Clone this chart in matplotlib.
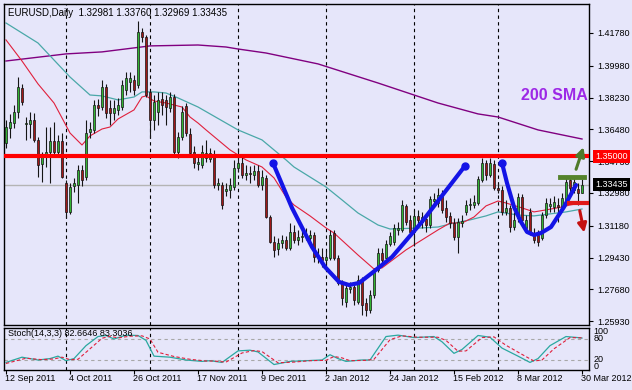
import matplotlib
matplotlib.use('Agg')
import matplotlib.pyplot as plt
import pandas as pd

plt.rcParams['font.family'] = ['Liberation Sans', 'DejaVu Sans']

# EURUSD daily bars, 12 Sep 2011 .. 30 Mar 2012
dates = pd.bdate_range('2011-09-12', '2012-03-30')

opens = [1.3573, 1.3656, 1.3683, 1.3744, 1.3876, 1.3678, 1.3678, 1.3700, 1.3590, 1.3458,
         1.3502, 1.3524, 1.3584, 1.3524, 1.3584, 1.3353, 1.3194, 1.3337, 1.3342, 1.3425,
         1.3386, 1.3634, 1.3645, 1.3782, 1.3771, 1.3881, 1.3766, 1.3738, 1.3755, 1.3771,
         1.3865, 1.3909, 1.3920, 1.3892, 1.4184, 1.4156, 1.3854, 1.3700, 1.3744, 1.3815,
         1.3810, 1.3766, 1.3826, 1.3524, 1.3606, 1.3777, 1.3623, 1.3524, 1.3458, 1.3452,
         1.3491, 1.3485, 1.3513, 1.3342, 1.3342, 1.3309, 1.3315, 1.3331, 1.3436, 1.3463,
         1.3397, 1.3408, 1.3397, 1.3419, 1.3342, 1.3381, 1.3166, 1.3029, 1.2990, 1.3023,
         1.3040, 1.2996, 1.3084, 1.3040, 1.3056, 1.3062, 1.3051, 1.3067, 1.2946, 1.2946,
         1.2930, 1.2941, 1.3078, 1.2941, 1.2803, 1.2699, 1.2771, 1.2781, 1.2699, 1.2820,
         1.2693, 1.2655, 1.2737, 1.2875, 1.2968, 1.2941, 1.3018, 1.3029, 1.3095, 1.3095,
         1.3227, 1.3150, 1.3084, 1.3172, 1.3139, 1.3155, 1.3122, 1.3254, 1.3243, 1.3287,
         1.3216, 1.3172, 1.3133, 1.3056, 1.3133, 1.3194, 1.3232, 1.3232, 1.3243, 1.3370,
         1.3463, 1.3397, 1.3458, 1.3326, 1.3315, 1.3194, 1.3216, 1.3111, 1.3161, 1.3276,
         1.3106, 1.3194, 1.3078, 1.3067, 1.3051, 1.3177, 1.3227, 1.3221, 1.3232, 1.3221,
         1.3260, 1.3370, 1.3315, 1.3320, 1.32981]
highs = [1.3700, 1.3733, 1.3782, 1.3936, 1.3898, 1.3716, 1.3744, 1.3738, 1.3606, 1.3524,
         1.3661, 1.3661, 1.3689, 1.3617, 1.3628, 1.3370, 1.3353, 1.3381, 1.3452, 1.3452,
         1.3700, 1.3689, 1.3810, 1.3815, 1.3920, 1.3898, 1.3810, 1.3810, 1.3821, 1.3920,
         1.3964, 1.3964, 1.3947, 1.4244, 1.4206, 1.4167, 1.3865, 1.3837, 1.3854, 1.3854,
         1.3837, 1.3854, 1.3843, 1.3634, 1.3777, 1.3793, 1.3656, 1.3557, 1.3507, 1.3562,
         1.3590, 1.3546, 1.3535, 1.3381, 1.3359, 1.3353, 1.3381, 1.3480, 1.3546, 1.3507,
         1.3452, 1.3447, 1.3452, 1.3452, 1.3425, 1.3397, 1.3177, 1.3062, 1.3051, 1.3067,
         1.3062, 1.3133, 1.3122, 1.3095, 1.3106, 1.3106, 1.3095, 1.3084, 1.2996, 1.2996,
         1.2985, 1.3095, 1.3095, 1.2957, 1.2820, 1.2792, 1.2809, 1.2803, 1.2847, 1.2836,
         1.2721, 1.2765, 1.2886, 1.2996, 1.2996, 1.3040, 1.3084, 1.3128, 1.3139, 1.3260,
         1.3238, 1.3177, 1.3205, 1.3205, 1.3194, 1.3183, 1.3282, 1.3298, 1.3326, 1.3315,
         1.3260, 1.3194, 1.3161, 1.3161, 1.3177, 1.3260, 1.3271, 1.3287, 1.3392, 1.3491,
         1.3480, 1.3491, 1.3480, 1.3353, 1.3337, 1.3260, 1.3232, 1.3194, 1.3298, 1.3293,
         1.3177, 1.3216, 1.3106, 1.3095, 1.3194, 1.3271, 1.3271, 1.3282, 1.3271, 1.3298,
         1.3381, 1.3392, 1.3386, 1.3353, 1.33760]
lows = [1.3546, 1.3601, 1.3656, 1.3711, 1.3782, 1.3590, 1.3601, 1.3579, 1.3386, 1.3359,
        1.3441, 1.3353, 1.3507, 1.3502, 1.3381, 1.3161, 1.3183, 1.3304, 1.3243, 1.3337,
        1.3370, 1.3601, 1.3628, 1.3722, 1.3755, 1.3711, 1.3672, 1.3700, 1.3727, 1.3755,
        1.3837, 1.3854, 1.3837, 1.3876, 1.4129, 1.3826, 1.3601, 1.3645, 1.3672, 1.3727,
        1.3672, 1.3744, 1.3507, 1.3491, 1.3590, 1.3612, 1.3502, 1.3436, 1.3425, 1.3436,
        1.3469, 1.3469, 1.3326, 1.3315, 1.3210, 1.3282, 1.3271, 1.3315, 1.3414, 1.3381,
        1.3370, 1.3353, 1.3370, 1.3331, 1.3315, 1.3161, 1.3023, 1.2946, 1.2957, 1.2996,
        1.2985, 1.2985, 1.3023, 1.3012, 1.3029, 1.3040, 1.3034, 1.2919, 1.2913, 1.2891,
        1.2886, 1.2930, 1.2930, 1.2792, 1.2682, 1.2671, 1.2748, 1.2682, 1.2688, 1.2627,
        1.2622, 1.2638, 1.2721, 1.2864, 1.2913, 1.2930, 1.3007, 1.3012, 1.3067, 1.3084,
        1.3122, 1.3062, 1.3007, 1.3117, 1.3106, 1.3084, 1.3106, 1.3221, 1.3221, 1.3188,
        1.3139, 1.3106, 1.3040, 1.2968, 1.3111, 1.3177, 1.3205, 1.3216, 1.3232, 1.3359,
        1.3370, 1.3386, 1.3315, 1.3298, 1.3177, 1.3177, 1.3084, 1.3095, 1.3139, 1.3139,
        1.3084, 1.3067, 1.3023, 1.3007, 1.3040, 1.3161, 1.3194, 1.3194, 1.3139, 1.3205,
        1.3249, 1.3304, 1.3298, 1.3232, 1.32969]
closes = [1.3661, 1.3689, 1.3744, 1.3881, 1.3799, 1.3683, 1.3700, 1.3590, 1.3452, 1.3496,
          1.3524, 1.3584, 1.3524, 1.3584, 1.3386, 1.3194, 1.3331, 1.3353, 1.3425, 1.3370,
          1.3628, 1.3650, 1.3782, 1.3766, 1.3881, 1.3738, 1.3738, 1.3766, 1.3782, 1.3892,
          1.3931, 1.3931, 1.3865, 1.4184, 1.4156, 1.3837, 1.3700, 1.3799, 1.3810, 1.3782,
          1.3771, 1.3826, 1.3524, 1.3606, 1.3744, 1.3628, 1.3518, 1.3463, 1.3469, 1.3524,
          1.3518, 1.3518, 1.3342, 1.3353, 1.3232, 1.3320, 1.3342, 1.3436, 1.3463, 1.3397,
          1.3408, 1.3403, 1.3419, 1.3342, 1.3386, 1.3166, 1.3029, 1.2985, 1.3023, 1.3040,
          1.2996, 1.3084, 1.3040, 1.3056, 1.3062, 1.3067, 1.3067, 1.2946, 1.2952, 1.2930,
          1.2946, 1.3067, 1.2941, 1.2803, 1.2720, 1.2776, 1.2781, 1.2710, 1.2820, 1.2682,
          1.2655, 1.2737, 1.2864, 1.2968, 1.2930, 1.3018, 1.3062, 1.3106, 1.3106, 1.3232,
          1.3139, 1.3084, 1.3172, 1.3150, 1.3166, 1.3122, 1.3265, 1.3265, 1.3287, 1.3205,
          1.3166, 1.3133, 1.3056, 1.3139, 1.3144, 1.3232, 1.3238, 1.3249, 1.3375, 1.3463,
          1.3397, 1.3463, 1.3326, 1.3315, 1.3194, 1.3216, 1.3111, 1.3150, 1.3276, 1.3150,
          1.3150, 1.3084, 1.3040, 1.3029, 1.3177, 1.3243, 1.3238, 1.3249, 1.3221, 1.3271,
          1.3359, 1.3326, 1.3359, 1.3298, 1.33435]

# moving averages (bar index, price)
sma200_bar = [0, 15, 24, 32, 36, 48, 55, 58, 65, 78, 93, 102, 108, 118, 123, 133, 144]
sma200_val = [1.4024, 1.4063, 1.4074, 1.4096, 1.4107, 1.4112, 1.4101, 1.4090, 1.4068,
              1.4008, 1.3903, 1.3837, 1.3793, 1.3733, 1.3716, 1.3645, 1.3595]
ma50_bar = [0, 8, 16, 21, 24, 28, 32, 34, 37, 40, 43, 48, 58, 64, 70, 72, 76, 80, 84,
            88, 93, 96, 104, 108, 112, 116, 120, 123, 128, 132, 136, 140, 144]
ma50_val = [1.4233, 1.4123, 1.3936, 1.3837, 1.3832, 1.3810, 1.3826, 1.3854, 1.3854,
            1.3848, 1.3821, 1.3771, 1.3645, 1.3590, 1.3480, 1.3441, 1.3386, 1.3331,
            1.3260, 1.3188, 1.3122, 1.3100, 1.3106, 1.3111, 1.3133, 1.3150, 1.3172,
            1.3194, 1.3177, 1.3172, 1.3183, 1.3194, 1.3210]
ma20_bar = [0, 4, 8, 12, 14, 16, 19, 21, 24, 26, 28, 32, 34, 35, 37, 40, 44, 46, 48,
            50, 56, 60, 64, 67, 70, 72, 76, 80, 82, 88, 92, 94, 96, 100, 104, 108, 111,
            114, 117, 120, 123, 125, 129, 132, 135, 139, 141, 144]
ma20_val = [1.4140, 1.4024, 1.3898, 1.3793, 1.3711, 1.3628, 1.3562, 1.3612, 1.3650,
            1.3661, 1.3705, 1.3755, 1.3826, 1.3832, 1.3804, 1.3793, 1.3771, 1.3716,
            1.3683, 1.3645, 1.3535, 1.3480, 1.3441, 1.3381, 1.3276, 1.3232, 1.3172,
            1.3106, 1.3078, 1.2957, 1.2880, 1.2886, 1.2919, 1.2985, 1.3040, 1.3095,
            1.3133, 1.3133, 1.3166, 1.3227, 1.3254, 1.3243, 1.3216, 1.3194, 1.3205,
            1.3221, 1.3232, 1.3243]

# stochastic (14,3,3): main and signal
stoch_bar = [0, 4, 8, 11, 13, 15, 17, 20, 23, 25, 27, 30, 33, 35, 37, 41, 45, 49, 51,
             54, 58, 61, 63, 67, 71, 75, 79, 81, 83, 85, 89, 91, 95, 98, 102, 107, 109,
             112, 114, 118, 121, 124, 128, 131, 133, 136, 140, 143, 144]
stoch_main = [13, 28, 20, 24, 31, 18, 24, 61, 87, 90, 80, 91, 90, 76, 31, 28, 20, 16,
              18, 13, 46, 48, 43, 7, 16, 18, 20, 35, 24, 16, 20, 20, 87, 91, 84, 87, 72,
              39, 50, 90, 85, 54, 31, 13, 24, 61, 87, 84, 82.6646]
signal_bar = [0, 5, 9, 12, 14, 16, 18, 21, 24, 26, 28, 31, 34, 36, 38, 42, 46, 50, 52,
              55, 59, 62, 64, 68, 72, 76, 80, 82, 84, 86, 90, 92, 96, 99, 103, 108, 110,
              113, 115, 119, 122, 125, 129, 132, 134, 137, 141, 144]
stoch_signal = [10, 25, 21, 23, 28, 21, 22, 52, 82, 88, 83, 88, 89, 80, 42, 30, 22, 17,
                17, 14, 40, 47, 44, 12, 14, 18, 19, 30, 26, 18, 19, 22, 78, 89, 85, 85,
                76, 45, 46, 84, 86, 62, 36, 17, 20, 52, 84, 83.3036]

# hand-drawn annotations (bar index, price)
cup1_bar = [66.75, 71.5, 76.5, 79.75, 83.25, 85.75, 88.25, 91.5, 96.5, 103.75, 114.75]
cup1_val = [1.3463, 1.3216, 1.3001, 1.2891, 1.2809, 1.2792, 1.2803, 1.2858, 1.2946,
            1.3133, 1.3447]
cup2_bar = [124, 125.25, 127, 128.75, 130.25, 132, 133.75, 136.25, 139.5, 142.5]
cup2_val = [1.3463, 1.3353, 1.3221, 1.3139, 1.3084, 1.3067, 1.3078, 1.3111, 1.3221, 1.3342]

price_ticks = [1.41780, 1.39980, 1.38230, 1.36480, 1.34730, 1.32980, 1.31180, 1.29430,
               1.27680, 1.25930]
resistance = 1.35000
last_price = 1.33435

bg = '#e6e6fa'
bull = '#33b433'
bear = '#a01818'
fs = 6.5

fig = plt.figure(figsize=(6.32, 3.90), dpi=100, facecolor=bg)
ax = fig.add_axes([4 / 632, 1 - 325 / 390, 585 / 632, 321 / 390], facecolor=bg)
ax2 = fig.add_axes([4 / 632, 1 - 370 / 390, 585 / 632, 42 / 390], facecolor=bg)

idx = list(range(len(dates)))
month_starts = [i for i in idx[1:] if dates[i].month != dates[i - 1].month]
for a in (ax, ax2):
    for m in month_starts:
        a.axvline(m, color='black', lw=0.8, ls=(0, (3, 3)), zorder=1)
    a.set_xlim(-0.5, 145.75)
    for s in a.spines.values():
        s.set_color('black')
        s.set_linewidth(1)

# candles
ax.vlines(idx, lows, highs, color='#151515', lw=0.8, zorder=3)
body_bottom = [min(o, c) for o, c in zip(opens, closes)]
body_height = [max(abs(c - o), 0.00005) for o, c in zip(opens, closes)]
body_color = [bull if c >= o else bear for o, c in zip(opens, closes)]
ax.bar(idx, body_height, bottom=body_bottom, width=0.6, color=body_color,
       edgecolor='#151515', linewidth=0.5, zorder=4)

ax.plot(sma200_bar, sma200_val, color='#800080', lw=1.0, zorder=2)
ax.plot(ma50_bar, ma50_val, color='#4aa8a8', lw=0.9, zorder=2)
ax.plot(ma20_bar, ma20_val, color='#e0203c', lw=0.8, zorder=2)

ax.axhline(last_price, color='#b4b4b4', lw=1, zorder=1.5)
ax.axhline(resistance, color='#ff0000', lw=3, zorder=5)

# cup drawings
ax.plot(cup1_bar, cup1_val, color='#1414e6', lw=3, solid_capstyle='round', zorder=6)
ax.plot(cup1_bar[0], cup1_val[0], 'o', color='#1414e6', ms=5, zorder=6)
ax.plot(cup1_bar[-1], cup1_val[-1], 'o', color='#1414e6', ms=5, zorder=6)
ax.plot(cup2_bar, cup2_val, color='#1414e6', lw=3, solid_capstyle='round', zorder=6)
ax.plot(cup2_bar[0], cup2_val[0], 'o', color='#1414e6', ms=5, zorder=6)
ax.annotate('', xy=(cup2_bar[-1] + 0.3, cup2_val[-1] + 0.0015),
            xytext=(cup2_bar[-2], cup2_val[-2]),
            arrowprops=dict(arrowstyle='-|>', color='#1414e6', lw=0, mutation_scale=9),
            zorder=6)

# breakout levels and arrows
ax.plot([138.5, 144.6], [1.3386, 1.3386], color='#55832c', lw=3.5, zorder=6)
ax.plot([140.7, 146.0], [1.3243, 1.3243], color='#e01818', lw=3, zorder=6)
ax.annotate('', xy=(144.6, 1.3565), xytext=(142.3, 1.3414),
            arrowprops=dict(arrowstyle='-|>', color='#4f7a2a', lw=2.2, mutation_scale=13),
            zorder=7)
ax.annotate('', xy=(144.7, 1.3065), xytext=(143.3, 1.3216),
            arrowprops=dict(arrowstyle='-|>', color='#c41010', lw=2.2, mutation_scale=13),
            zorder=7)

ax.text(145.4, 1.3837, '200 SMA', color='#9d28e6', fontsize=11.5, fontweight='bold',
        ha='right', va='center', zorder=8)

ax.set_ylim(1.2572, 1.43375)
ax.set_xticks([])
ax.yaxis.tick_right()
ax.set_yticks(price_ticks)
ax.set_yticklabels(['%.5f' % p for p in price_ticks], fontsize=fs)
ax.tick_params(axis='y', length=3, width=0.8, pad=3, colors='black')

ytr = ax.get_yaxis_transform()
ax.text(1.0103, resistance, '%.5f' % resistance, transform=ytr, color='white', fontsize=fs,
        va='center', ha='left', zorder=10,
        bbox=dict(boxstyle='square,pad=0.22', fc='#ff0000', ec='none'), clip_on=False)
ax.text(1.0103, last_price, '%.5f' % last_price, transform=ytr, color='white', fontsize=fs,
        va='center', ha='left', zorder=10,
        bbox=dict(boxstyle='square,pad=0.22', fc='black', ec='none'), clip_on=False)

fig.text(8 / 632, 1 - 13 / 390, 'EURUSD,Daily  %.5f %.5f %.5f %.5f'
         % (opens[-1], highs[-1], lows[-1], closes[-1]), fontsize=7, va='center')

# stochastic panel
ax2.plot(stoch_bar, stoch_main, color='#2aa8a0', lw=0.9, zorder=3)
ax2.plot(signal_bar, stoch_signal, color='#e0203c', lw=0.8, ls=(0, (3, 2)), zorder=3)
for lvl in (20, 80):
    ax2.axhline(lvl, color='#a8a8a8', lw=0.8, ls=(0, (3, 3)), zorder=1)
ax2.set_ylim(-8.6, 111.4)
ax2.set_yticks([])
ax2.text(0.007, 0.86, 'Stoch(14,3,3) %.4f %.4f' % (stoch_main[-1], stoch_signal[-1]),
         transform=ax2.transAxes, fontsize=fs, va='center', ha='left')
for lvl in (100, 80, 20, 0):
    ax2.text(1.008, lvl, str(lvl), transform=ax2.get_yaxis_transform(), fontsize=fs,
             va='center', ha='left', clip_on=False)

label_idx = list(range(0, len(dates), 16))
ax2.set_xticks(label_idx)
ax2.set_xticklabels([])
ax2.tick_params(axis='x', length=3, width=0.8, colors='black')
for i in label_idx:
    ax2.text(i - 0.3, -0.2, '%d %s' % (dates[i].day, dates[i].strftime('%b %Y')),
             transform=ax2.get_xaxis_transform(), fontsize=fs, va='center', ha='left',
             clip_on=False)

plt.savefig('out.png', dpi=100, facecolor=bg)
